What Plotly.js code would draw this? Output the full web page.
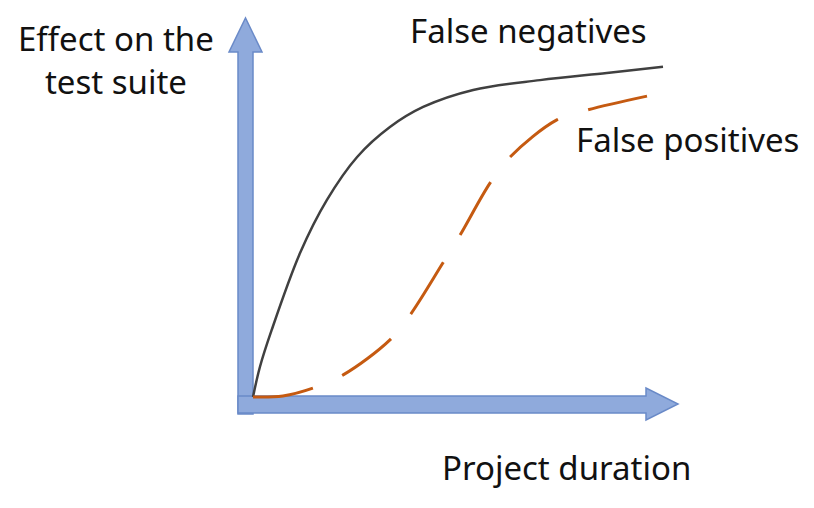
<!DOCTYPE html>
<html>
<head>
<meta charset="utf-8">
<script src="https://cdn.plot.ly/plotly-3.0.1.min.js"></script>
<style>html,body{margin:0;padding:0;background:#fff;}#chart{width:814px;height:508px;}</style>
</head>
<body>
<div id="chart"></div>
<script>
// Project duration (0-100) vs. effect on the test suite (0-100)
const negX = [0, 1.7, 4.5, 11.5, 18.0, 25.4, 33.4, 41.5, 53.7, 70.0, 86.3, 100];
const negY = [0, 8.9, 19.5, 42.4, 57.9, 70.6, 79.4, 85.3, 90.3, 93.2, 95.3, 97.1];
const posX = [0, 7.3, 14.6, 22.0, 33.4, 38.3, 46.3, 50.5, 57.8, 62.7, 74.1, 81.5, 96.1];
const posY = [0, 0.3, 2.6, 6.5, 16.8, 24.1, 39.4, 47.6, 62.9, 70.6, 81.5, 84.4, 88.5];
const labels = {
  yTitle: "Effect on the<br>test suite",
  xTitle: "Project duration",
  neg: "False negatives",
  pos: "False positives"
};

const W = 814, H = 508;
// pixel <-> data mapping: origin at (253,397), 4.1 px per x unit, 3.4 px per y unit
const x0 = 253, y0 = 397, sx = 4.1, sy = 3.4;
const xr = [(0 - x0) / sx, (W - x0) / sx];
const yr = [(y0 - H) / sy, y0 / sy];
const dx = p => (p - x0) / sx;
const dy = p => (y0 - p) / sy;
function pathFrom(pts) {
  return pts.map((p, i) => (i ? 'L' : 'M') + dx(p[0]).toFixed(3) + ',' + dy(p[1]).toFixed(3)).join(' ') + ' Z';
}
const hArrow = pathFrom([[238,396],[646,396],[646,388],[678,404],[646,420],[646,413],[238,413]]);
const vArrow = pathFrom([[238,414],[238,52],[229,52],[245.5,18],[262,52],[253,52],[253,414]]);
const arrowStyle = {fillcolor: '#8FAADC', line: {color: '#6A8AC8', width: 1.5}, layer: 'below'};

const font = {family: 'Noto Sans, Open Sans, sans-serif', size: 33, color: '#111111'};
const P = (px, py) => ({x: px / W, y: 1 - py / H});

const data = [
  {x: negX, y: negY, mode: 'lines', line: {color: '#404040', width: 2.5, shape: 'spline', smoothing: 1}, hoverinfo: 'skip'},
  {x: posX, y: posY, mode: 'lines', line: {color: '#C55A11', width: 3, shape: 'spline', smoothing: 1, dash: '61px,32px'}, hoverinfo: 'skip'}
];

const layout = {
  width: W, height: H,
  margin: {l: 0, r: 0, t: 0, b: 0},
  paper_bgcolor: '#ffffff', plot_bgcolor: '#ffffff',
  showlegend: false,
  xaxis: {range: xr, visible: false, fixedrange: true},
  yaxis: {range: yr, visible: false, fixedrange: true},
  shapes: [
    Object.assign({type: 'path', xref: 'x', yref: 'y', path: vArrow}, arrowStyle),
    Object.assign({type: 'path', xref: 'x', yref: 'y', path: hArrow}, arrowStyle)
  ],
  annotations: [
    Object.assign({text: labels.yTitle, xref: 'paper', yref: 'paper', xanchor: 'center', yanchor: 'middle', align: 'center', showarrow: false, font: font}, P(116, 60)),
    Object.assign({text: labels.neg, xref: 'paper', yref: 'paper', xanchor: 'left', yanchor: 'middle', showarrow: false, font: font}, P(408, 30)),
    Object.assign({text: labels.pos, xref: 'paper', yref: 'paper', xanchor: 'left', yanchor: 'middle', showarrow: false, font: font}, P(574, 140)),
    Object.assign({text: labels.xTitle, xref: 'paper', yref: 'paper', xanchor: 'left', yanchor: 'middle', showarrow: false, font: font}, P(440, 467))
  ]
};

Plotly.newPlot('chart', data, layout, {displayModeBar: false, staticPlot: true});
</script>
</body>
</html>
